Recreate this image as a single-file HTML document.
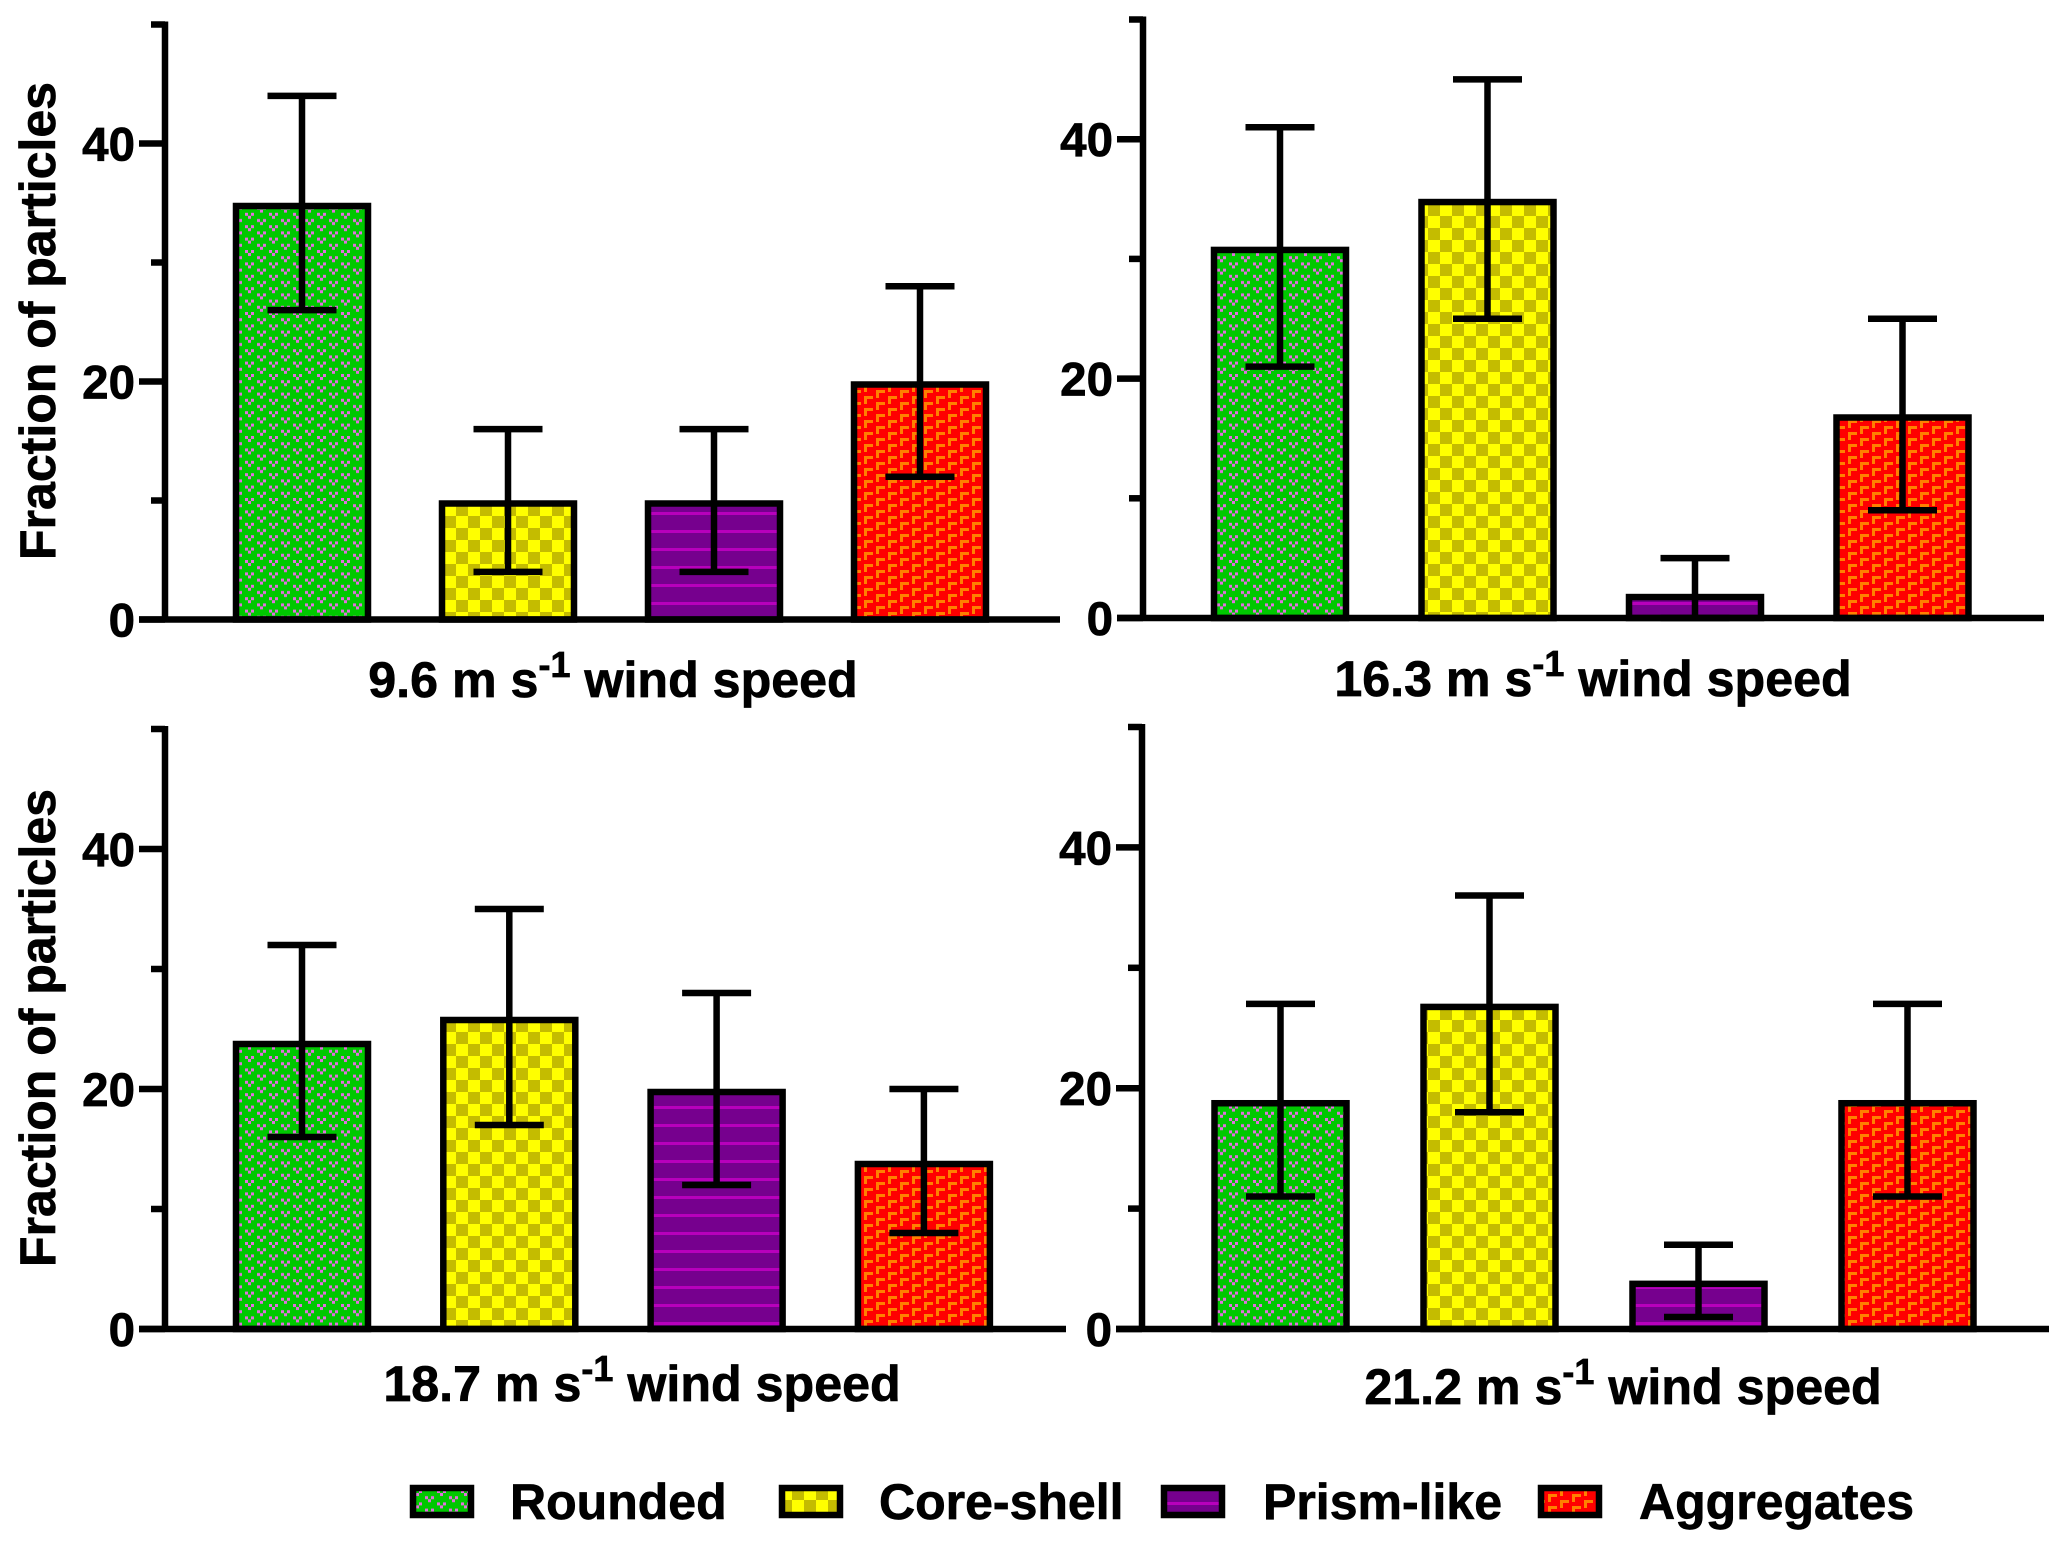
<!DOCTYPE html>
<html lang="en">
<head>
<meta charset="utf-8">
<title>Fraction of particles by wind speed</title>
<style>
html,body{margin:0;padding:0;background:#fff;}
svg{display:block;}
text{font-family:"Liberation Sans",Arial,sans-serif;font-weight:bold;fill:#000;stroke:#000;stroke-width:0.7px;}
.title,.ylabel,.legend-label{font-size:50px;}
.title{font-size:50.2px;}
.tick-label{font-size:47.5px;}
.sup{font-size:36px;}
</style>
</head>
<body>
<svg id="chart" xmlns="http://www.w3.org/2000/svg" width="2067" height="1548" viewBox="0 0 2067 1548">
  <defs>
    <pattern id="pat-rounded" patternUnits="userSpaceOnUse" width="24" height="12.4" patternTransform="translate(5 2)">
      <rect width="24" height="12.4" fill="#00c800"/>
      <g fill="#e46fe0">
        <rect x="0" y="0" width="3" height="3"/><rect x="6" y="0" width="3" height="3"/><rect x="3" y="3" width="3" height="3"/>
        <rect x="12" y="6.2" width="3" height="3"/><rect x="18" y="6.2" width="3" height="3"/><rect x="15" y="9.2" width="3" height="3"/>
      </g>
    </pattern>
    <pattern id="pat-core" patternUnits="userSpaceOnUse" width="24" height="24">
      <rect width="24" height="24" fill="#ffff00"/>
      <rect x="0" y="0" width="12" height="12" fill="#c4bc00"/>
      <rect x="12" y="12" width="12" height="12" fill="#c4bc00"/>
    </pattern>
    <pattern id="pat-prism" patternUnits="userSpaceOnUse" width="18" height="18" patternTransform="translate(0 1)">
      <rect width="18" height="18" fill="#76008e"/>
      <rect y="7" width="18" height="3" fill="#b800bc"/>
    </pattern>
    <pattern id="pat-aggregates" patternUnits="userSpaceOnUse" width="24" height="12">
      <rect width="24" height="12" fill="#ff0000"/>
      <g fill="#ff8000">
        <path d="M0 0h9v3h-6v5h-3z"/>
        <path d="M12 6h9v3h-6v5h-3z"/>
        <path d="M12 -6h9v3h-6v5h-3z"/>
      </g>
    </pattern>
  </defs>

  <g id="marks"></g>

  <g>
    <text class="ylabel" transform="translate(55 321) rotate(-90)" text-anchor="middle">Fraction of particles</text>
    <text class="ylabel" transform="translate(55 1028) rotate(-90)" text-anchor="middle">Fraction of particles</text>
    <text class="title" x="613" y="697" text-anchor="middle">9.6 m s<tspan class="sup" dy="-20">-1</tspan><tspan dy="20"> wind speed</tspan></text>
    <text class="title" x="1593" y="696" text-anchor="middle">16.3 m s<tspan class="sup" dy="-20">-1</tspan><tspan dy="20"> wind speed</tspan></text>
    <text class="title" x="642" y="1401" text-anchor="middle">18.7 m s<tspan class="sup" dy="-20">-1</tspan><tspan dy="20"> wind speed</tspan></text>
    <text class="title" x="1623" y="1404" text-anchor="middle">21.2 m s<tspan class="sup" dy="-20">-1</tspan><tspan dy="20"> wind speed</tspan></text>
  </g>

  <g>
    <g>
      <rect x="413" y="1488" width="58" height="27" fill="url(#pat-rounded)" stroke="#000" stroke-width="6.5"/>
      <text class="legend-label" x="510" y="1519">Rounded</text>
    </g>
    <g>
      <rect x="782" y="1488" width="58" height="27" fill="url(#pat-core)" stroke="#000" stroke-width="6.5"/>
      <text class="legend-label" x="879" y="1519">Core-shell</text>
    </g>
    <g>
      <rect x="1164" y="1488" width="58" height="27" fill="url(#pat-prism)" stroke="#000" stroke-width="6.5"/>
      <text class="legend-label" x="1263" y="1519">Prism-like</text>
    </g>
    <g>
      <rect x="1541" y="1488" width="58" height="27" fill="url(#pat-aggregates)" stroke="#000" stroke-width="6.5"/>
      <text class="legend-label" x="1639" y="1519">Aggregates</text>
    </g>
  </g>
</svg>

<script>
// Chart data
const categories = ['rounded', 'core-shell', 'prism-like', 'aggregates'];
const panelNames = ['9-6', '16-3', '18-7', '21-2'];
const meanValues916 = [35, 10, 10, 20];
const upperValues916 = [44, 16, 16, 28];
const lowerValues916 = [26, 4, 4, 12];
const meanValues163 = [31, 35, 2, 17];
const upperValues163 = [41, 45, 5, 25];
const lowerValues163 = [21, 25, 0, 9];
const meanValues187 = [24, 26, 20, 14];
const upperValues187 = [32, 35, 28, 20];
const lowerValues187 = [16, 17, 12, 8];
const meanValues212 = [19, 27, 4, 19];
const upperValues212 = [27, 36, 7, 27];
const lowerValues212 = [11, 18, 1, 11];
const majorTicks = [0, 20, 40];
const minorTicks = [10, 30, 50];
const yMax = 50;

// Layout (separate from data)
const layouts = [
  {axisX:165, y0:619.5, yTop:24.5, first:302, step:206, endX:1060, means:meanValues916, uppers:upperValues916, lowers:lowerValues916},
  {axisX:1143, y0:618, yTop:19.5, first:1280, step:207.5, endX:2044, means:meanValues163, uppers:upperValues163, lowers:lowerValues163},
  {axisX:165, y0:1329, yTop:729, first:302, step:207.3, endX:1066, means:meanValues187, uppers:upperValues187, lowers:lowerValues187},
  {axisX:1142, y0:1329, yTop:727, first:1280.5, step:209, endX:2049, means:meanValues212, uppers:upperValues212, lowers:lowerValues212}
];
const fills = ['url(#pat-rounded)', 'url(#pat-core)', 'url(#pat-prism)', 'url(#pat-aggregates)'];
const barWidth = 132;
const barTopInset = 3;
const capHalf = 34.5;
const SW = 6.5;
const NS = 'http://www.w3.org/2000/svg';
const root = document.getElementById('marks');

function makeLine(parent, x1, y1, x2, y2) {
  const l = document.createElementNS(NS, 'line');
  l.setAttribute('x1', x1);
  l.setAttribute('y1', y1);
  l.setAttribute('x2', x2);
  l.setAttribute('y2', y2);
  l.setAttribute('stroke', '#000');
  l.setAttribute('stroke-width', SW);
  parent.appendChild(l);
  return l;
}

layouts.forEach(function (p, pi) {
  const yScale = function (v) { return p.y0 - (v / yMax) * (p.y0 - p.yTop); };
  const xScale = function (i) { return p.first + i * p.step; };

  const g = document.createElementNS(NS, 'g');
  
  
  root.appendChild(g);

  // bars
  p.means.forEach(function (v, i) {
    const top = yScale(v) + barTopInset;
    const r = document.createElementNS(NS, 'rect');
    r.setAttribute('x', xScale(i) - barWidth / 2);
    r.setAttribute('y', top);
    r.setAttribute('width', barWidth);
    r.setAttribute('height', p.y0 - top);
    r.setAttribute('fill', fills[i]);
    r.setAttribute('stroke', '#000');
    r.setAttribute('stroke-width', SW);
    
    
    g.appendChild(r);
  });

  // error bars
  p.means.forEach(function (v, i) {
    const eb = document.createElementNS(NS, 'g');
    
    
    g.appendChild(eb);
    const cx = xScale(i);
    makeLine(eb, cx, yScale(p.uppers[i]), cx, yScale(p.lowers[i]));
    makeLine(eb, cx - capHalf, yScale(p.uppers[i]), cx + capHalf, yScale(p.uppers[i]));
    makeLine(eb, cx - capHalf, yScale(p.lowers[i]), cx + capHalf, yScale(p.lowers[i]));
  });

  // y axis
  const yAxis = makeLine(g, p.axisX, p.yTop - 3, p.axisX, p.y0 + 3);
  
  

  minorTicks.forEach(function (t) {
    const m = makeLine(g, p.axisX - 14, yScale(t), p.axisX, yScale(t));
    
    
  });

  majorTicks.forEach(function (t) {
    const m = makeLine(g, p.axisX - 26, yScale(t), p.axisX, yScale(t));
    
    
    const label = document.createElementNS(NS, 'text');
    label.setAttribute('class', 'tick-label');
    label.setAttribute('x', p.axisX - 30);
    label.setAttribute('y', yScale(t) + 17);
    label.setAttribute('text-anchor', 'end');
    
    
    label.textContent = String(t);
    g.appendChild(label);
  });

  // x axis
  const xAxis = makeLine(g, p.axisX - 26, p.y0, p.endX, p.y0);
  
  
});
</script>
</body>
</html>
